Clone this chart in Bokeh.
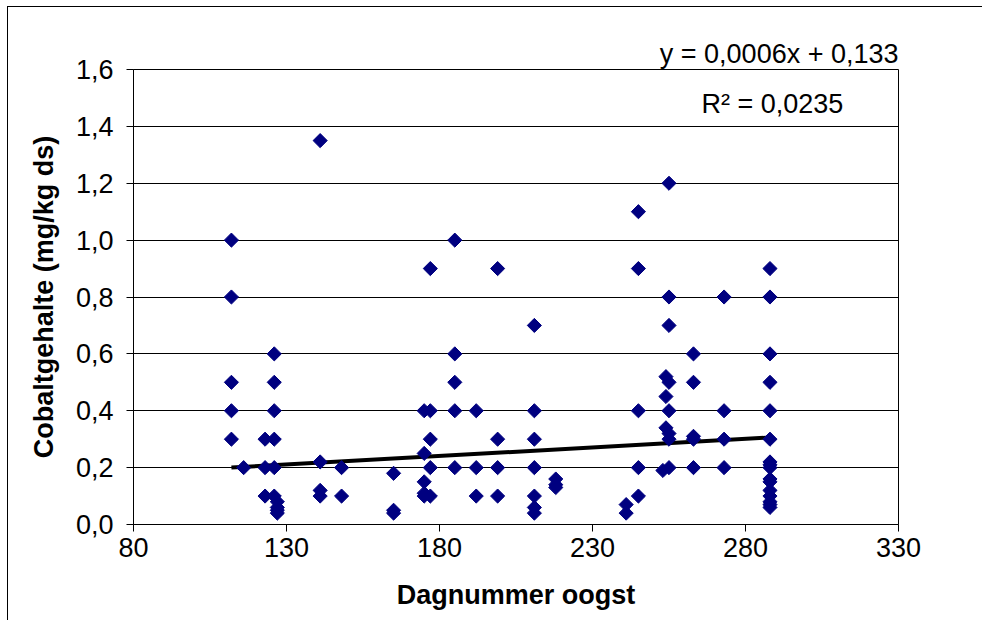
from bokeh.plotting import figure
from bokeh.models import Range1d, FixedTicker, CustomJSTickFormatter, Label
from bokeh.embed import file_html
from bokeh.resources import INLINE
import numpy as np

# Harvest day number and cobalt content (mg/kg dry matter)
day = [
    112, 112, 112, 112, 112,
    116,
    123, 123, 123,
    126, 126, 126, 126, 126, 126,
    127, 127, 127, 127,
    141, 141, 141, 141,
    148, 148,
    165, 165, 165,
    175, 175, 175, 175, 175,
    177, 177, 177, 177, 177,
    185, 185, 185, 185, 185,
    192, 192, 192,
    199, 199, 199, 199,
    211, 211, 211, 211, 211, 211, 211,
    218, 218, 218,
    241, 241,
    245, 245, 245, 245, 245,
    255, 255, 255, 254, 255, 254, 255, 254, 255, 255, 255, 253,
    263, 263, 263, 263, 263,
    273, 273, 273, 273,
    288, 288, 288, 288, 288, 288, 288, 288, 288, 288, 288, 288, 288, 288, 288, 288,
]
cobalt = [
    1.0, 0.8, 0.5, 0.4, 0.3,
    0.2,
    0.3, 0.2, 0.1,
    0.6, 0.5, 0.4, 0.3, 0.2, 0.1,
    0.08, 0.06, 0.05, 0.04,
    1.35, 0.22, 0.12, 0.10,
    0.2, 0.1,
    0.18, 0.05, 0.04,
    0.4, 0.25, 0.15, 0.11, 0.1,
    0.9, 0.4, 0.3, 0.2, 0.1,
    1.0, 0.6, 0.5, 0.4, 0.2,
    0.4, 0.2, 0.1,
    0.9, 0.3, 0.2, 0.1,
    0.7, 0.4, 0.3, 0.2, 0.1, 0.06, 0.04,
    0.16, 0.14, 0.13,
    0.07, 0.04,
    1.1, 0.9, 0.4, 0.2, 0.1,
    1.2, 0.8, 0.7, 0.52, 0.5, 0.45, 0.4, 0.34, 0.32, 0.3, 0.2, 0.19,
    0.6, 0.5, 0.31, 0.3, 0.2,
    0.8, 0.4, 0.3, 0.2,
    0.9, 0.8, 0.6, 0.5, 0.4, 0.3, 0.22, 0.21, 0.2, 0.16, 0.15, 0.12, 0.1, 0.08, 0.07, 0.06,
]

x_ticks = [80, 130, 180, 230, 280, 330]
y_ticks = [0.0, 0.2, 0.4, 0.6, 0.8, 1.0, 1.2, 1.4, 1.6]

# Linear trend as reported in the equation label
slope = 0.0006
intercept = 0.133
eq_text = "y = 0,0006x + 0,133"
r2_text = "R² = 0,0235"

FONT = "Liberation Sans"

p = figure(
    width=975, height=614,
    x_range=Range1d(80, 330), y_range=Range1d(0, 1.6),
    output_backend="svg", toolbar_location=None,
    min_border_left=125, min_border_right=85,
    min_border_top=62, min_border_bottom=97,
    background_fill_color="white", border_fill_color="white",
)
p.margin = (6, 0, 0, 7)
p.styles = {"border-left": "1px solid black", "border-top": "1px solid black"}

# Trend equation sits just above the plot area, flush right
p.title.text = eq_text
p.title.align = "right"
p.title.text_font = FONT
p.title.text_font_size = "27px"
p.title.text_font_style = "normal"
p.title.text_color = "black"
p.title.standoff = 1

p.outline_line_color = "black"
p.outline_line_width = 1
p.xgrid.grid_line_color = None
p.ygrid.grid_line_color = "black"
p.ygrid.grid_line_width = 1

p.xaxis.ticker = FixedTicker(ticks=x_ticks)
p.yaxis.ticker = FixedTicker(ticks=y_ticks)
p.yaxis.formatter = CustomJSTickFormatter(code="return tick.toFixed(1).replace('.', ',');")

for ax in (p.xaxis[0], p.yaxis[0]):
    ax.axis_line_color = "black"
    ax.major_tick_line_color = "black"
    ax.major_tick_out = 7
    ax.major_tick_in = 0
    ax.minor_tick_line_color = None
    ax.major_label_text_font = FONT
    ax.major_label_text_font_size = "27px"
    ax.major_label_text_color = "black"
    ax.axis_label_text_font = FONT
    ax.axis_label_text_font_size = "27px"
    ax.axis_label_text_font_style = "bold"
    ax.axis_label_text_color = "black"

p.xaxis.axis_label = "Dagnummer oogst"
p.yaxis.axis_label = "Cobaltgehalte (mg/kg ds)"
p.xaxis.major_label_standoff = 6
p.yaxis.major_label_standoff = 13
p.xaxis.axis_label_standoff = 20
p.yaxis.axis_label_standoff = 14

# Trend line across the observed day range
x0, x1 = min(day), max(day)
p.line([x0, x1], [slope * x0 + intercept, slope * x1 + intercept],
       line_color="black", line_width=4)

p.scatter(day, cobalt, marker="square", angle=np.pi / 4, size=10,
          fill_color="#000080", line_color="#000080")

p.add_layout(Label(x=288.8, y=1.48, text=r2_text, text_align="center",
                   text_baseline="alphabetic", text_font=FONT,
                   text_font_size="27px", text_color="black"))

open("out.html", "w").write(file_html(p, INLINE))
